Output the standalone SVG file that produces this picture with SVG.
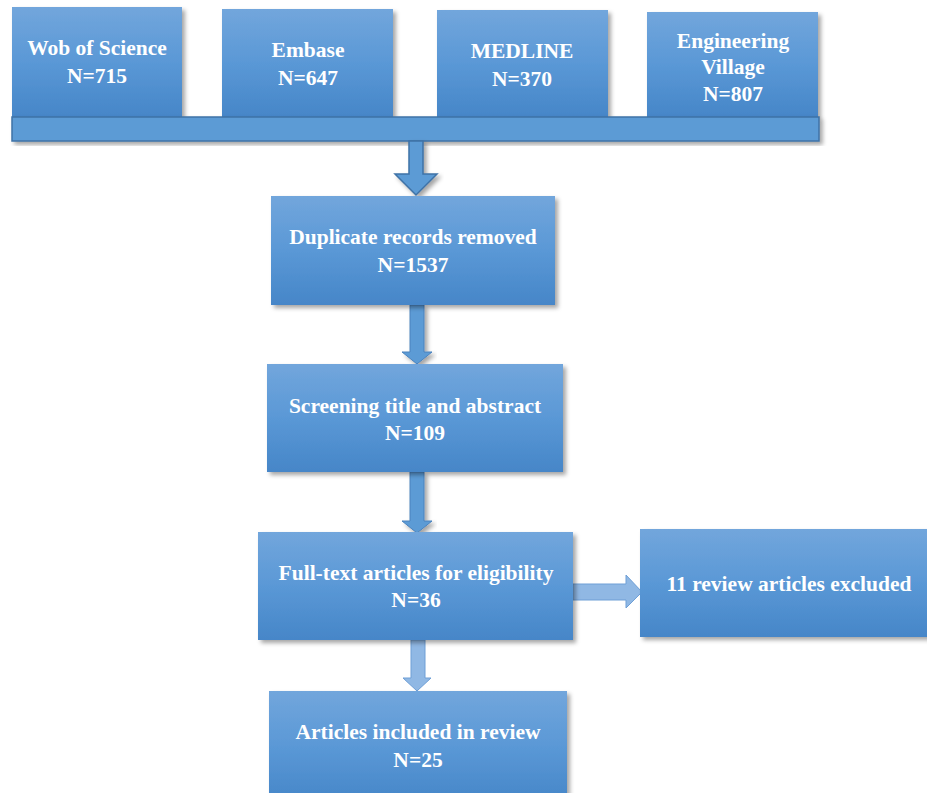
<svg xmlns="http://www.w3.org/2000/svg" width="927" height="793" viewBox="0 0 927 793">
<defs>
<linearGradient id="boxGrad" x1="0" y1="0" x2="0" y2="1">
<stop offset="0" stop-color="#72a6dc"/>
<stop offset="0.5" stop-color="#5a98d6"/>
<stop offset="1" stop-color="#4686c8"/>
</linearGradient>
<filter id="shadow" x="-10%" y="-10%" width="125%" height="130%">
<feDropShadow dx="3" dy="3" stdDeviation="2" flood-color="#000" flood-opacity="0.35"/>
</filter>
</defs>
<style>
.box{fill:url(#boxGrad);filter:url(#shadow);}
.bar{fill:#5b9bd5;stroke:#3f72a6;stroke-width:1.5;filter:url(#shadow);}
.lbl{font-family:"Liberation Serif","Times New Roman",serif;font-weight:bold;font-size:21.5px;fill:#ffffff;text-anchor:middle;}
.arr{fill:#5b9bd5;stroke:#4a82bd;stroke-width:1;filter:url(#shadow);}
.arr1{fill:#5b9bd5;stroke:#3f72a6;stroke-width:1.5;filter:url(#shadow);}
.arrL{fill:#90b8e4;stroke:#6e9fd6;stroke-width:1;}
</style>
<rect width="927" height="793" fill="#ffffff"/>

<g id="node-wos">
<rect class="box" x="12" y="7" width="170" height="110"/>
<text class="lbl" x="97" y="55">Wob of Science</text>
<text class="lbl" x="97" y="83">N=715</text>
</g>
<g id="node-embase">
<rect class="box" x="222" y="9" width="171" height="108"/>
<text class="lbl" x="308" y="57">Embase</text>
<text class="lbl" x="308" y="85">N=647</text>
</g>
<g id="node-medline">
<rect class="box" x="437" y="10" width="171" height="107"/>
<text class="lbl" x="522" y="58">MEDLINE</text>
<text class="lbl" x="522" y="86">N=370</text>
</g>
<g id="node-engineering">
<rect class="box" x="647" y="12" width="171" height="105"/>
<text class="lbl" x="733" y="48">Engineering</text>
<text class="lbl" x="733" y="74">Village</text>
<text class="lbl" x="733" y="101">N=807</text>
</g>
<g id="node-bar">
<rect class="bar" x="12" y="117" width="807" height="24"/>
</g>

<g id="connectors">
<polygon class="arr1" points="409,141 423,141 423,174 437,174 416,195 395,174 409,174"/>
<polygon class="arr" points="410,305 424,305 424,352 432,352 417,364 402,352 410,352"/>
<polygon class="arr" points="410,472 424,472 424,521 432,521 417,533 402,521 410,521"/>
<polygon class="arrL" points="573,584 626,584 626,575 642,592 626,608 626,600 573,600"/>
<polygon class="arrL" points="411,640 425,640 425,678 431,678 417,691 403,678 411,678"/>
</g>

<g id="node-duplicates">
<rect class="box" x="271" y="196" width="284" height="109"/>
<text class="lbl" x="413" y="244">Duplicate records removed</text>
<text class="lbl" x="413" y="272">N=1537</text>
</g>
<g id="node-screening">
<rect class="box" x="267" y="364" width="296" height="108"/>
<text class="lbl" x="415" y="413">Screening title and abstract</text>
<text class="lbl" x="415" y="440">N=109</text>
</g>
<g id="node-fulltext">
<rect class="box" x="258" y="532" width="315" height="108"/>
<text class="lbl" x="416" y="580">Full-text articles for eligibility</text>
<text class="lbl" x="416" y="607">N=36</text>
</g>
<g id="node-excluded">
<rect class="box" x="640" y="529" width="295" height="108"/>
<text class="lbl" x="789" y="591">11 review articles excluded</text>
</g>
<g id="node-included">
<rect class="box" x="269" y="691" width="298" height="112"/>
<text class="lbl" x="418" y="739">Articles included in review</text>
<text class="lbl" x="418" y="767">N=25</text>
</g>
</svg>
